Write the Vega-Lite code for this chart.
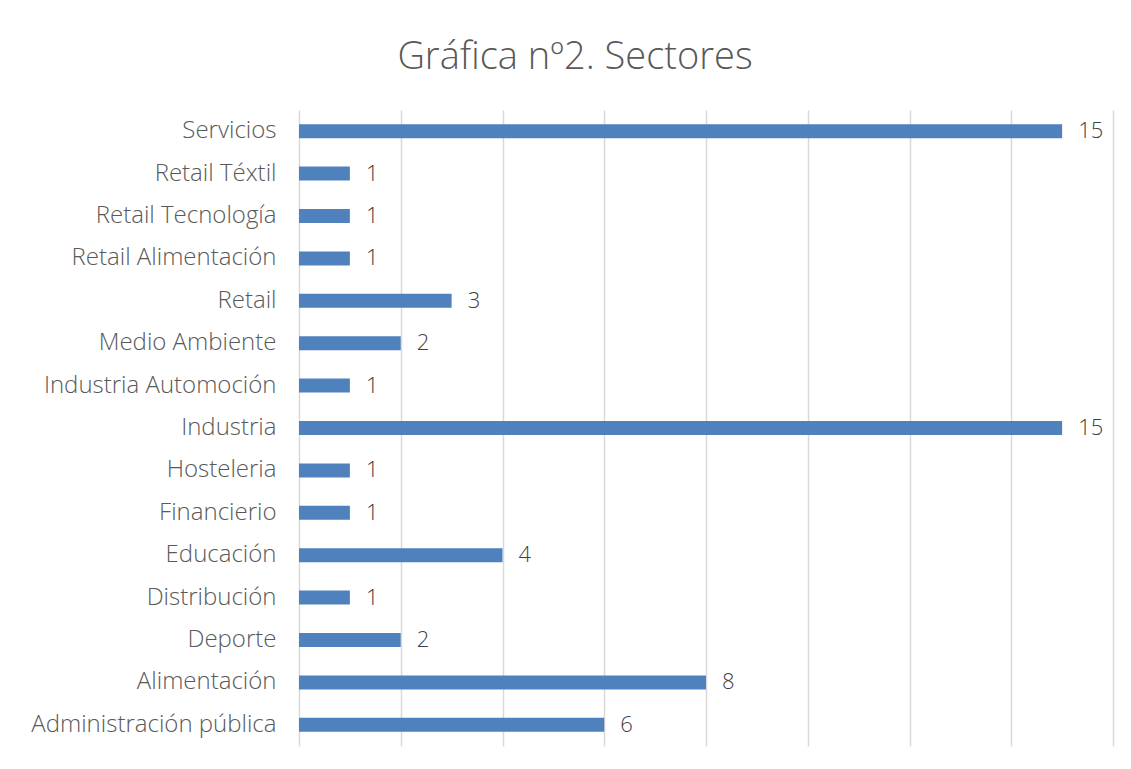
{
  "$schema": "https://vega.github.io/schema/vega-lite/v6.json",
  "width": 814,
  "height": 636,
  "autosize": {"type": "none"},
  "padding": {"left": 299, "top": 110, "right": 18, "bottom": 23},
  "background": "white",
  "title": {
    "text": "Gráfica nº2. Sectores",
    "font": "Open Sans",
    "fontWeight": 300,
    "fontSize": 38,
    "color": "#595959",
    "anchor": "middle",
    "frame": "group",
    "dx": -131,
    "baseline": "alphabetic",
    "offset": 3
  },
  "data": {
    "values": [
      {"sector": "Servicios", "n": 15},
      {"sector": "Retail Téxtil", "n": 1},
      {"sector": "Retail Tecnología", "n": 1},
      {"sector": "Retail Alimentación", "n": 1},
      {"sector": "Retail", "n": 3},
      {"sector": "Medio Ambiente", "n": 2},
      {"sector": "Industria Automoción", "n": 1},
      {"sector": "Industria", "n": 15},
      {"sector": "Hosteleria", "n": 1},
      {"sector": "Financierio", "n": 1},
      {"sector": "Educación", "n": 4},
      {"sector": "Distribución", "n": 1},
      {"sector": "Deporte", "n": 2},
      {"sector": "Alimentación", "n": 8},
      {"sector": "Administración pública", "n": 6}
    ]
  },
  "encoding": {
    "y": {
      "field": "sector",
      "type": "nominal",
      "sort": null,
      "scale": {"paddingInner": 0.67, "paddingOuter": 0.335},
      "axis": {
        "title": null,
        "ticks": false,
        "domain": false,
        "labelFont": "Open Sans",
        "labelFontWeight": 300,
        "labelFontSize": 24,
        "labelColor": "#595959",
        "labelPadding": 23,
        "labelLimit": 400
      }
    },
    "x": {
      "field": "n",
      "type": "quantitative",
      "scale": {"domain": [0, 16], "nice": false},
      "axis": {
        "title": null,
        "values": [0, 2, 4, 6, 8, 10, 12, 14, 16],
        "labels": false,
        "ticks": false,
        "domain": false,
        "grid": true,
        "gridColor": "#d9d9d9",
        "gridWidth": 1.5
      }
    }
  },
  "layer": [
    {"mark": {"type": "bar", "color": "#4f81bd"}},
    {
      "mark": {
        "type": "text",
        "align": "left",
        "baseline": "middle",
        "dx": 16,
        "font": "Open Sans",
        "fontWeight": 300,
        "fontSize": 22,
        "color": "#404040"
      },
      "encoding": {"text": {"field": "n", "type": "quantitative"}}
    }
  ],
  "config": {"view": {"stroke": null}}
}
